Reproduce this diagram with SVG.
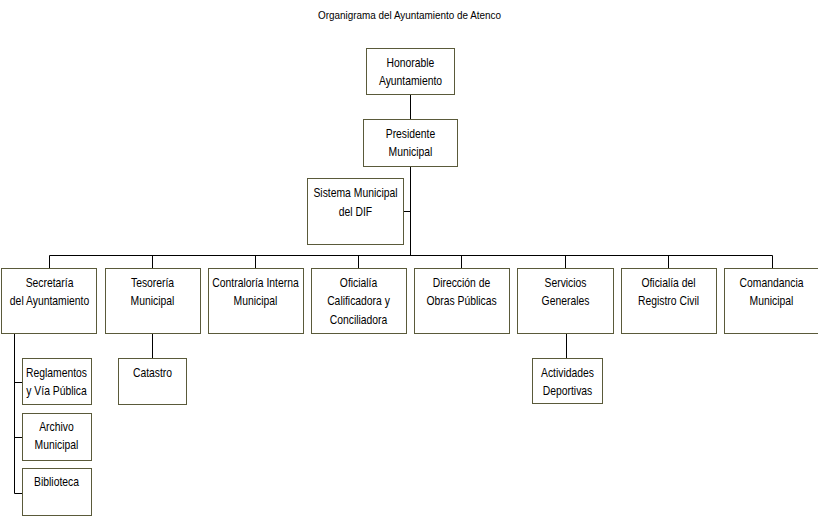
<svg xmlns="http://www.w3.org/2000/svg" width="818" height="517" viewBox="0 0 818 517">
<style>
.box{fill:#ffffff;stroke:#5a5a3a;stroke-width:1}
.ln{fill:none;stroke:#000000;stroke-width:1}
text{font-family:"Liberation Sans",Arial,sans-serif;font-size:12.5px;fill:#000000;text-anchor:middle;transform-box:fill-box;transform-origin:50% 50%;transform:scaleX(0.83)}
text.title{font-size:11px;transform:none}
</style>
<rect x="0" y="0" width="818" height="517" fill="#ffffff"/>
<text class="title" x="409.5" y="19" textLength="183" lengthAdjust="spacingAndGlyphs">Organigrama del Ayuntamiento de Atenco</text>
<g id="connectors">
<path class="ln" d="M410.5,94 V119 M410.5,166 V255.5 M403,211.5 H410.5 M49.5,255.5 H772.5"/>
<path class="ln" d="M49.5,255.5 V268 M152.5,255.5 V268 M255.5,255.5 V268 M358.5,255.5 V268 M461.5,255.5 V268 M565.5,255.5 V268 M668.5,255.5 V268 M772.5,255.5 V268"/>
<path class="ln" d="M14.5,333 V493.5 M14.5,382.5 H22 M14.5,437.5 H22 M14.5,493.5 H22"/>
<path class="ln" d="M152.5,333 V358 M566.5,333 V358"/>
</g>
<g id="honorable"><rect class="box" x="366.5" y="48.5" width="88" height="46"/><text x="410.5" y="67">Honorable</text><text x="410.5" y="85">Ayuntamiento</text></g>
<g id="presidente"><rect class="box" x="363.5" y="119.5" width="94" height="47"/><text x="410.5" y="138">Presidente</text><text x="410.5" y="156">Municipal</text></g>
<g id="dif"><rect class="box" x="307.5" y="178.5" width="96" height="66"/><text x="355.5" y="197">Sistema Municipal</text><text x="355.5" y="216">del  DIF</text></g>
<g id="secretaria"><rect class="box" x="1.5" y="268.5" width="95" height="65"/><text x="49.5" y="287">Secretaría</text><text x="49.5" y="305">del  Ayuntamiento</text></g>
<g id="tesoreria"><rect class="box" x="105.5" y="268.5" width="95" height="65"/><text x="152.5" y="287">Tesorería</text><text x="152.5" y="305">Municipal</text></g>
<g id="contraloria"><rect class="box" x="208.5" y="268.5" width="95" height="65"/><text x="255.5" y="287">Contraloría Interna</text><text x="255.5" y="305">Municipal</text></g>
<g id="oficialia-calificadora"><rect class="box" x="311.5" y="268.5" width="95" height="65"/><text x="358.5" y="287">Oficialía</text><text x="358.5" y="305">Calificadora y</text><text x="358.5" y="324">Conciliadora</text></g>
<g id="obras"><rect class="box" x="414.5" y="268.5" width="95" height="65"/><text x="461.5" y="287">Dirección de</text><text x="461.5" y="305">Obras Públicas</text></g>
<g id="servicios"><rect class="box" x="517.5" y="268.5" width="96" height="65"/><text x="565.5" y="287">Servicios</text><text x="565.5" y="305">Generales</text></g>
<g id="registro"><rect class="box" x="621.5" y="268.5" width="95" height="65"/><text x="668.5" y="287">Oficialía del</text><text x="668.5" y="305">Registro Civil</text></g>
<g id="comandancia"><rect class="box" x="724.5" y="268.5" width="95" height="65"/><text x="771.5" y="287">Comandancia</text><text x="771.5" y="305">Municipal</text></g>
<g id="reglamentos"><rect class="box" x="22.5" y="358.5" width="69" height="46"/><text x="56.5" y="377">Reglamentos</text><text x="56.5" y="395">y Vía Pública</text></g>
<g id="archivo"><rect class="box" x="22.5" y="413.5" width="69" height="47"/><text x="56.5" y="431">Archivo</text><text x="56.5" y="449">Municipal</text></g>
<g id="biblioteca"><rect class="box" x="22.5" y="468.5" width="69" height="47"/><text x="56.5" y="486">Biblioteca</text></g>
<g id="catastro"><rect class="box" x="118.5" y="358.5" width="68" height="46"/><text x="152.5" y="377">Catastro</text></g>
<g id="actividades"><rect class="box" x="532.5" y="358.5" width="70" height="45"/><text x="567.5" y="377">Actividades</text><text x="567.5" y="395">Deportivas</text></g>
</svg>
